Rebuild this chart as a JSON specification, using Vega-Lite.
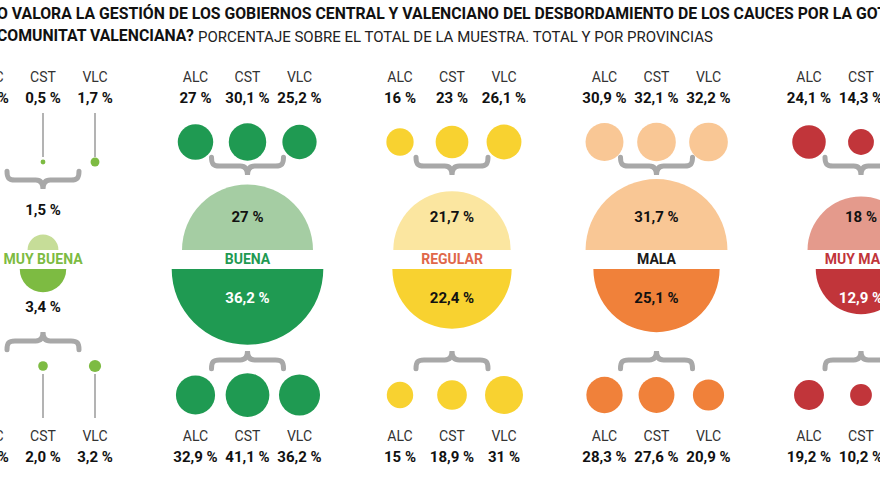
{
  "$schema": "https://vega.github.io/schema/vega-lite/v6.json",
  "width": 880,
  "height": 495,
  "autosize": {"type": "none"},
  "padding": 0,
  "background": "white",
  "config": {"view": {"stroke": null}, "text": {"font": "Roboto"}},
  "title": {
    "text": ["O VALORA LA GESTIÓN DE LOS GOBIERNOS CENTRAL Y VALENCIANO DEL DESBORDAMIENTO DE LOS CAUCES POR LA GOTA FRÍA EN LA", "COMUNITAT VALENCIANA?"],
    "subtitle": "\u200b\u00a0\u00a0\u00a0\u00a0\u00a0\u00a0\u00a0\u00a0\u00a0\u00a0\u00a0\u00a0\u00a0\u00a0\u00a0\u00a0\u00a0\u00a0\u00a0\u00a0\u00a0\u00a0\u00a0\u00a0\u00a0\u00a0\u00a0\u00a0\u00a0\u00a0\u00a0\u00a0\u00a0\u00a0\u00a0\u00a0\u00a0\u00a0\u00a0\u00a0\u00a0\u00a0\u00a0\u00a0\u00a0\u00a0\u00a0\u00a0\u00a0\u00a0\u00a0\u00a0\u00a0\u00a0PORCENTAJE SOBRE EL TOTAL DE LA MUESTRA. TOTAL Y POR PROVINCIAS",
    "anchor": "start",
    "orient": "top",
    "frame": "group",
    "offset": -46,
    "dx": -3,
    "font": "Roboto",
    "fontSize": 15.8,
    "fontWeight": "bold",
    "color": "#111111",
    "lineHeight": 22,
    "subtitleFont": "Roboto",
    "subtitleFontSize": 15,
    "subtitleColor": "#222222",
    "subtitlePadding": -15
  },
  "datasets": {
    "prov": [
      {"cat": "MUY BUENA", "gob": "Central", "prov": "ALC", "v": 1.5, "lab": "1,5 %"},
      {"cat": "MUY BUENA", "gob": "Central", "prov": "CST", "v": 0.5, "lab": "0,5 %"},
      {"cat": "MUY BUENA", "gob": "Central", "prov": "VLC", "v": 1.7, "lab": "1,7 %"},
      {"cat": "MUY BUENA", "gob": "Valenciano", "prov": "ALC", "v": 4.1, "lab": "4,1 %"},
      {"cat": "MUY BUENA", "gob": "Valenciano", "prov": "CST", "v": 2.0, "lab": "2,0 %"},
      {"cat": "MUY BUENA", "gob": "Valenciano", "prov": "VLC", "v": 3.2, "lab": "3,2 %"},
      {"cat": "BUENA", "gob": "Central", "prov": "ALC", "v": 27, "lab": "27 %"},
      {"cat": "BUENA", "gob": "Central", "prov": "CST", "v": 30.1, "lab": "30,1 %"},
      {"cat": "BUENA", "gob": "Central", "prov": "VLC", "v": 25.2, "lab": "25,2 %"},
      {"cat": "BUENA", "gob": "Valenciano", "prov": "ALC", "v": 32.9, "lab": "32,9 %"},
      {"cat": "BUENA", "gob": "Valenciano", "prov": "CST", "v": 41.1, "lab": "41,1 %"},
      {"cat": "BUENA", "gob": "Valenciano", "prov": "VLC", "v": 36.2, "lab": "36,2 %"},
      {"cat": "REGULAR", "gob": "Central", "prov": "ALC", "v": 16, "lab": "16 %"},
      {"cat": "REGULAR", "gob": "Central", "prov": "CST", "v": 23, "lab": "23 %"},
      {"cat": "REGULAR", "gob": "Central", "prov": "VLC", "v": 26.1, "lab": "26,1 %"},
      {"cat": "REGULAR", "gob": "Valenciano", "prov": "ALC", "v": 15, "lab": "15 %"},
      {"cat": "REGULAR", "gob": "Valenciano", "prov": "CST", "v": 18.9, "lab": "18,9 %"},
      {"cat": "REGULAR", "gob": "Valenciano", "prov": "VLC", "v": 31, "lab": "31 %"},
      {"cat": "MALA", "gob": "Central", "prov": "ALC", "v": 30.9, "lab": "30,9 %"},
      {"cat": "MALA", "gob": "Central", "prov": "CST", "v": 32.1, "lab": "32,1 %"},
      {"cat": "MALA", "gob": "Central", "prov": "VLC", "v": 32.2, "lab": "32,2 %"},
      {"cat": "MALA", "gob": "Valenciano", "prov": "ALC", "v": 28.3, "lab": "28,3 %"},
      {"cat": "MALA", "gob": "Valenciano", "prov": "CST", "v": 27.6, "lab": "27,6 %"},
      {"cat": "MALA", "gob": "Valenciano", "prov": "VLC", "v": 20.9, "lab": "20,9 %"},
      {"cat": "MUY MALA", "gob": "Central", "prov": "ALC", "v": 24.1, "lab": "24,1 %"},
      {"cat": "MUY MALA", "gob": "Central", "prov": "CST", "v": 14.3, "lab": "14,3 %"},
      {"cat": "MUY MALA", "gob": "Central", "prov": "VLC", "v": 14.4, "lab": "14,4 %"},
      {"cat": "MUY MALA", "gob": "Valenciano", "prov": "ALC", "v": 19.2, "lab": "19,2 %"},
      {"cat": "MUY MALA", "gob": "Valenciano", "prov": "CST", "v": 10.2, "lab": "10,2 %"},
      {"cat": "MUY MALA", "gob": "Valenciano", "prov": "VLC", "v": 9.0, "lab": "9,0 %"}
    ],
    "tot": [
      {"cat": "MUY BUENA", "gob": "Central", "v": 1.5, "lab": "1,5 %"},
      {"cat": "MUY BUENA", "gob": "Valenciano", "v": 3.4, "lab": "3,4 %"},
      {"cat": "BUENA", "gob": "Central", "v": 27, "lab": "27 %"},
      {"cat": "BUENA", "gob": "Valenciano", "v": 36.2, "lab": "36,2 %"},
      {"cat": "REGULAR", "gob": "Central", "v": 21.7, "lab": "21,7 %"},
      {"cat": "REGULAR", "gob": "Valenciano", "v": 22.4, "lab": "22,4 %"},
      {"cat": "MALA", "gob": "Central", "v": 31.7, "lab": "31,7 %"},
      {"cat": "MALA", "gob": "Valenciano", "v": 25.1, "lab": "25,1 %"},
      {"cat": "MUY MALA", "gob": "Central", "v": 18, "lab": "18 %"},
      {"cat": "MUY MALA", "gob": "Valenciano", "v": 12.9, "lab": "12,9 %"}
    ]
  },
  "resolve": {"scale": {"y": "independent", "color": "independent", "size": "independent", "radius": "independent"}},
  "layer": [
    {
      "data": {"name": "tot"},
      "transform": [{"filter": {"field": "gob", "equal": "Central"}}],
      "mark": {"type": "arc", "theta": -1.5708, "theta2": 1.5708},
      "encoding": {
        "x": {"field": "cat", "type": "nominal", "scale": {"type": "point", "domain": ["MUY BUENA", "BUENA", "REGULAR", "MALA", "MUY MALA"], "range": [43, 861], "padding": 0}, "axis": null},
        "y": {"field": "gob", "type": "nominal", "scale": {"type": "point", "domain": ["Central", "Valenciano"], "range": [250, 269], "padding": 0}, "axis": null},
        "radius": {"field": "v", "type": "quantitative", "stack": null, "scale": {"type": "sqrt", "domain": [0, 100], "range": [0, 126], "zero": true}},
        "color": {"field": "cat", "type": "nominal", "scale": {"domain": ["MUY BUENA", "BUENA", "REGULAR", "MALA", "MUY MALA"], "range": ["#c6dd98", "#a5cda3", "#fbe6a0", "#f9c795", "#e49a8c"]}, "legend": null}
      }
    },
    {
      "data": {"name": "tot"},
      "transform": [{"filter": {"field": "gob", "equal": "Valenciano"}}],
      "mark": {"type": "arc", "theta": 1.5708, "theta2": 4.7124},
      "encoding": {
        "x": {"field": "cat", "type": "nominal", "scale": {"type": "point", "domain": ["MUY BUENA", "BUENA", "REGULAR", "MALA", "MUY MALA"], "range": [43, 861], "padding": 0}, "axis": null},
        "y": {"field": "gob", "type": "nominal", "scale": {"type": "point", "domain": ["Central", "Valenciano"], "range": [250, 269], "padding": 0}, "axis": null},
        "radius": {"field": "v", "type": "quantitative", "stack": null, "scale": {"type": "sqrt", "domain": [0, 100], "range": [0, 126], "zero": true}},
        "color": {"field": "cat", "type": "nominal", "scale": {"domain": ["MUY BUENA", "BUENA", "REGULAR", "MALA", "MUY MALA"], "range": ["#7dbb42", "#1f9a52", "#f8d230", "#f0813a", "#c1353a"]}, "legend": null}
      }
    },
    {
      "data": {"name": "tot"},
      "transform": [{"filter": "datum.cat !== 'MUY BUENA'"}],
      "mark": {"type": "point", "filled": false, "color": "#a8a8a8", "stroke": "#a8a8a8", "strokeWidth": 5, "opacity": 1, "size": 5184, "strokeCap": "round"},
      "encoding": {
        "x": {"field": "cat", "type": "nominal", "scale": {"type": "point", "domain": ["MUY BUENA", "BUENA", "REGULAR", "MALA", "MUY MALA"], "range": [43, 861], "padding": 0}, "axis": null},
        "y": {"field": "gob", "type": "nominal", "scale": {"type": "point", "domain": ["Central", "Valenciano"], "range": [166, 360], "padding": 0}, "axis": null},
        "shape": {"field": "gob", "type": "nominal", "scale": {"domain": ["Central", "Valenciano"], "range": ["M-1,-0.24C-1,-0.05,-0.95,0,-0.78,0L-0.2,0C-0.06,0,0,0.08,0,0.25C0,0.08,0.06,0,0.2,0L0.78,0C0.95,0,1,-0.05,1,-0.24", "M-1,0.24C-1,0.05,-0.95,0,-0.78,0L-0.2,0C-0.06,0,0,-0.08,0,-0.25C0,-0.08,0.06,0,0.2,0L0.78,0C0.95,0,1,0.05,1,0.24"]}, "legend": null}
      }
    },
    {
      "data": {"name": "tot"},
      "transform": [{"filter": {"field": "cat", "equal": "MUY BUENA"}}],
      "mark": {"type": "point", "filled": false, "color": "#a8a8a8", "stroke": "#a8a8a8", "strokeWidth": 5, "opacity": 1, "size": 5184, "strokeCap": "round"},
      "encoding": {
        "x": {"field": "cat", "type": "nominal", "scale": {"type": "point", "domain": ["MUY BUENA", "BUENA", "REGULAR", "MALA", "MUY MALA"], "range": [43, 861], "padding": 0}, "axis": null},
        "y": {"field": "gob", "type": "nominal", "scale": {"type": "point", "domain": ["Central", "Valenciano"], "range": [180, 341], "padding": 0}, "axis": null},
        "shape": {"field": "gob", "type": "nominal", "scale": {"domain": ["Central", "Valenciano"], "range": ["M-1,-0.24C-1,-0.05,-0.95,0,-0.78,0L-0.2,0C-0.06,0,0,0.08,0,0.25C0,0.08,0.06,0,0.2,0L0.78,0C0.95,0,1,-0.05,1,-0.24", "M-1,0.24C-1,0.05,-0.95,0,-0.78,0L-0.2,0C-0.06,0,0,-0.08,0,-0.25C0,-0.08,0.06,0,0.2,0L0.78,0C0.95,0,1,0.05,1,0.24"]}, "legend": null}
      }
    },
    {
      "data": {"name": "prov"},
      "transform": [{"filter": {"field": "cat", "equal": "MUY BUENA"}}],
      "mark": {"type": "point", "shape": "M0,-1L0,1", "filled": false, "color": "#9a9a9a", "stroke": "#9a9a9a", "strokeWidth": 1.5, "opacity": 1, "size": 1936},
      "encoding": {
        "x": {"field": "cat", "type": "nominal", "scale": {"type": "point", "domain": ["MUY BUENA", "BUENA", "REGULAR", "MALA", "MUY MALA"], "range": [43, 861], "padding": 0}, "axis": null},
        "xOffset": {"field": "prov", "type": "nominal", "scale": {"type": "point", "domain": ["ALC", "CST", "VLC"], "range": [-52, 52], "padding": 0}},
        "y": {"field": "gob", "type": "nominal", "scale": {"type": "point", "domain": ["Central", "Valenciano"], "range": [135, 396], "padding": 0}, "axis": null}
      }
    },
    {
      "data": {"name": "prov"},
      "transform": [{"filter": {"field": "gob", "equal": "Central"}}, {"filter": "datum.cat !== 'MUY BUENA'"}],
      "mark": {"type": "circle", "opacity": 1},
      "encoding": {
        "x": {"field": "cat", "type": "nominal", "scale": {"type": "point", "domain": ["MUY BUENA", "BUENA", "REGULAR", "MALA", "MUY MALA"], "range": [43, 861], "padding": 0}, "axis": null},
        "xOffset": {"field": "prov", "type": "nominal", "scale": {"type": "point", "domain": ["ALC", "CST", "VLC"], "range": [-52, 52], "padding": 0}},
        "y": {"field": "gob", "type": "nominal", "scale": {"type": "point", "domain": ["Central", "Valenciano"], "range": [142, 395], "padding": 0}, "axis": null},
        "size": {"field": "v", "type": "quantitative", "scale": {"type": "linear", "domain": [0, 100], "range": [0, 4657]}, "legend": null},
        "color": {"field": "cat", "type": "nominal", "scale": {"domain": ["MUY BUENA", "BUENA", "REGULAR", "MALA", "MUY MALA"], "range": ["#7dbb42", "#1f9a52", "#f8d230", "#f9c795", "#c1353a"]}, "legend": null}
      }
    },
    {
      "data": {"name": "prov"},
      "transform": [{"filter": {"field": "gob", "equal": "Valenciano"}}, {"filter": "datum.cat !== 'MUY BUENA'"}],
      "mark": {"type": "circle", "opacity": 1},
      "encoding": {
        "x": {"field": "cat", "type": "nominal", "scale": {"type": "point", "domain": ["MUY BUENA", "BUENA", "REGULAR", "MALA", "MUY MALA"], "range": [43, 861], "padding": 0}, "axis": null},
        "xOffset": {"field": "prov", "type": "nominal", "scale": {"type": "point", "domain": ["ALC", "CST", "VLC"], "range": [-52, 52], "padding": 0}},
        "y": {"field": "gob", "type": "nominal", "scale": {"type": "point", "domain": ["Central", "Valenciano"], "range": [142, 395], "padding": 0}, "axis": null},
        "size": {"field": "v", "type": "quantitative", "scale": {"type": "linear", "domain": [0, 100], "range": [0, 4657]}, "legend": null},
        "color": {"field": "cat", "type": "nominal", "scale": {"domain": ["MUY BUENA", "BUENA", "REGULAR", "MALA", "MUY MALA"], "range": ["#7dbb42", "#1f9a52", "#f8d230", "#f0813a", "#c1353a"]}, "legend": null}
      }
    },
    {
      "data": {"name": "prov"},
      "transform": [{"filter": {"field": "cat", "equal": "MUY BUENA"}}],
      "mark": {"type": "circle", "opacity": 1, "color": "#7dbb42"},
      "encoding": {
        "x": {"field": "cat", "type": "nominal", "scale": {"type": "point", "domain": ["MUY BUENA", "BUENA", "REGULAR", "MALA", "MUY MALA"], "range": [43, 861], "padding": 0}, "axis": null},
        "xOffset": {"field": "prov", "type": "nominal", "scale": {"type": "point", "domain": ["ALC", "CST", "VLC"], "range": [-52, 52], "padding": 0}},
        "y": {"field": "gob", "type": "nominal", "scale": {"type": "point", "domain": ["Central", "Valenciano"], "range": [162, 366], "padding": 0}, "axis": null},
        "size": {"field": "v", "type": "quantitative", "scale": {"type": "linear", "domain": [0, 100], "range": [0, 4657]}, "legend": null}
      }
    },
    {
      "data": {"name": "prov"},
      "mark": {"type": "text", "font": "Roboto", "fontSize": 14, "color": "#333333", "baseline": "middle", "align": "center"},
      "encoding": {
        "x": {"field": "cat", "type": "nominal", "scale": {"type": "point", "domain": ["MUY BUENA", "BUENA", "REGULAR", "MALA", "MUY MALA"], "range": [43, 861], "padding": 0}, "axis": null},
        "xOffset": {"field": "prov", "type": "nominal", "scale": {"type": "point", "domain": ["ALC", "CST", "VLC"], "range": [-52, 52], "padding": 0}},
        "y": {"field": "gob", "type": "nominal", "scale": {"type": "point", "domain": ["Central", "Valenciano"], "range": [78, 437], "padding": 0}, "axis": null},
        "text": {"field": "prov"}
      }
    },
    {
      "data": {"name": "prov"},
      "mark": {"type": "text", "font": "Roboto", "fontSize": 15, "fontWeight": "bold", "color": "#111111", "baseline": "middle", "align": "center"},
      "encoding": {
        "x": {"field": "cat", "type": "nominal", "scale": {"type": "point", "domain": ["MUY BUENA", "BUENA", "REGULAR", "MALA", "MUY MALA"], "range": [43, 861], "padding": 0}, "axis": null},
        "xOffset": {"field": "prov", "type": "nominal", "scale": {"type": "point", "domain": ["ALC", "CST", "VLC"], "range": [-52, 52], "padding": 0}},
        "y": {"field": "gob", "type": "nominal", "scale": {"type": "point", "domain": ["Central", "Valenciano"], "range": [98, 457], "padding": 0}, "axis": null},
        "text": {"field": "lab"}
      }
    },
    {
      "data": {"name": "tot"},
      "transform": [{"filter": {"field": "gob", "equal": "Central"}}],
      "mark": {"type": "text", "font": "Roboto", "fontSize": 14, "fontWeight": "bold", "baseline": "middle", "align": "center"},
      "encoding": {
        "x": {"field": "cat", "type": "nominal", "scale": {"type": "point", "domain": ["MUY BUENA", "BUENA", "REGULAR", "MALA", "MUY MALA"], "range": [43, 861], "padding": 0}, "axis": null},
        "y": {"field": "gob", "type": "nominal", "scale": {"type": "point", "domain": ["Central", "Valenciano"], "range": [260, 280], "padding": 0}, "axis": null},
        "text": {"field": "cat"},
        "color": {"field": "cat", "type": "nominal", "scale": {"domain": ["MUY BUENA", "BUENA", "REGULAR", "MALA", "MUY MALA"], "range": ["#7dbb42", "#1f9a52", "#e0674a", "#1a1a1a", "#c1353a"]}, "legend": null}
      }
    },
    {
      "data": {"name": "tot"},
      "transform": [{"filter": {"field": "gob", "equal": "Central"}}, {"filter": "datum.cat !== 'MUY BUENA'"}],
      "mark": {"type": "text", "font": "Roboto", "fontSize": 15, "fontWeight": "bold", "color": "#111111", "baseline": "middle", "align": "center"},
      "encoding": {
        "x": {"field": "cat", "type": "nominal", "scale": {"type": "point", "domain": ["MUY BUENA", "BUENA", "REGULAR", "MALA", "MUY MALA"], "range": [43, 861], "padding": 0}, "axis": null},
        "y": {"field": "gob", "type": "nominal", "scale": {"type": "point", "domain": ["Central", "Valenciano"], "range": [217, 298], "padding": 0}, "axis": null},
        "text": {"field": "lab"}
      }
    },
    {
      "data": {"name": "tot"},
      "transform": [{"filter": {"field": "gob", "equal": "Valenciano"}}, {"filter": "datum.cat !== 'MUY BUENA'"}],
      "mark": {"type": "text", "font": "Roboto", "fontSize": 15, "fontWeight": "bold", "baseline": "middle", "align": "center"},
      "encoding": {
        "x": {"field": "cat", "type": "nominal", "scale": {"type": "point", "domain": ["MUY BUENA", "BUENA", "REGULAR", "MALA", "MUY MALA"], "range": [43, 861], "padding": 0}, "axis": null},
        "y": {"field": "gob", "type": "nominal", "scale": {"type": "point", "domain": ["Central", "Valenciano"], "range": [217, 298], "padding": 0}, "axis": null},
        "text": {"field": "lab"},
        "color": {"field": "cat", "type": "nominal", "scale": {"domain": ["MUY BUENA", "BUENA", "REGULAR", "MALA", "MUY MALA"], "range": ["#111111", "#ffffff", "#111111", "#111111", "#ffffff"]}, "legend": null}
      }
    },
    {
      "data": {"name": "tot"},
      "transform": [{"filter": {"field": "cat", "equal": "MUY BUENA"}}],
      "mark": {"type": "text", "font": "Roboto", "fontSize": 15, "fontWeight": "bold", "color": "#111111", "baseline": "middle", "align": "center"},
      "encoding": {
        "x": {"field": "cat", "type": "nominal", "scale": {"type": "point", "domain": ["MUY BUENA", "BUENA", "REGULAR", "MALA", "MUY MALA"], "range": [43, 861], "padding": 0}, "axis": null},
        "y": {"field": "gob", "type": "nominal", "scale": {"type": "point", "domain": ["Central", "Valenciano"], "range": [210, 307], "padding": 0}, "axis": null},
        "text": {"field": "lab"}
      }
    }
  ]
}
